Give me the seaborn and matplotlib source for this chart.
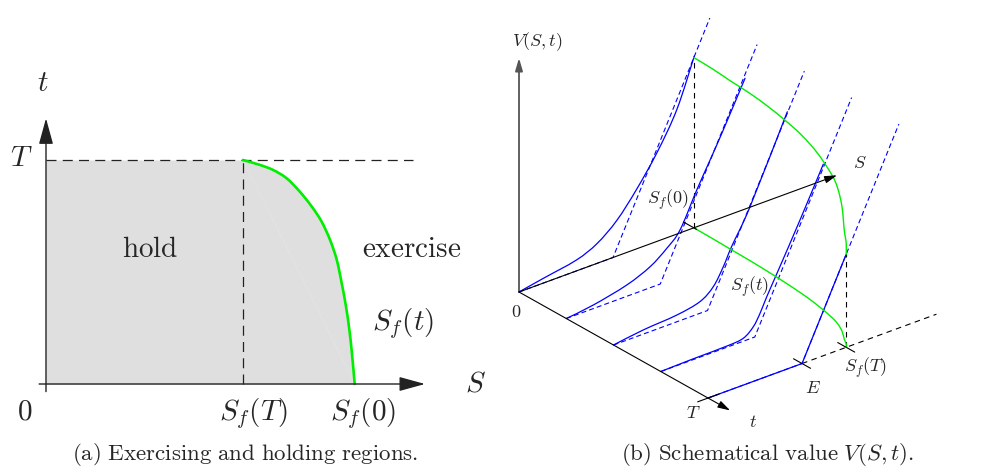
import numpy as np
import matplotlib
matplotlib.use("Agg")
import matplotlib.pyplot as plt
from matplotlib.path import Path
from matplotlib.patches import PathPatch
import seaborn as sns

sns.set_theme(style="white")
plt.rcParams['mathtext.fontset'] = 'cm'
plt.rcParams['font.family'] = ['DejaVu Serif']

# ---------------- panel (a): exercise / hold regions ----------------
T_A = 1.0          # expiry T
SF_T_A = 1.0       # S_f(T)
boundary_t = [1.0, 0.978, 0.955, 0.918, 0.858, 0.792, 0.725, 0.643, 0.554, 0.450, 0.345, 0.241, 0.137, 0.0]
boundary_S = [1.0, 1.086, 1.154, 1.222, 1.289, 1.349, 1.399, 1.442, 1.476, 1.501, 1.523, 1.540, 1.553, 1.567]

# ---------------- panel (b): schematic value V(S,t) ----------------
E = 1.0
T_B = 1.0
S_PAYOFF_END = 2.03
slice_t = [0.0, 0.25, 0.5, 0.75, 1.0]
value_S = [
    [0, 0.26, 0.61, 0.83, 1.04, 1.25, 1.47, 1.68, 1.865],
    [0, 0.288, 0.643, 0.891, 1.069, 1.21, 1.388, 1.529, 1.671, 1.902],
    [0, 0.317, 0.672, 0.92, 1.062, 1.168, 1.257, 1.452, 1.849],
    [0, 0.346, 0.702, 0.878, 0.985, 1.056, 1.127, 1.251, 1.481, 1.729],
    [0, 1.0, 1.47],
]
value_V = [
    [0, 0.024, 0.055, 0.10, 0.18, 0.30, 0.45, 0.63, 0.867],
    [0, 0.018, 0.057, 0.106, 0.168, 0.236, 0.407, 0.533, 0.662, 0.882],
    [0, 0.021, 0.034, 0.059, 0.110, 0.192, 0.279, 0.445, 0.856],
    [0, 0.004, 0.006, 0.015, 0.055, 0.11, 0.181, 0.294, 0.507, 0.746],
    [0, 0.0, 0.47],
]
fb_t = [0.0, 0.1, 0.2, 0.3, 0.4, 0.5, 0.6, 0.7, 0.8, 0.85, 0.9, 0.95, 0.98, 1.0]
fb_S = [1.86, 1.857, 1.85, 1.845, 1.835, 1.82, 1.80, 1.768, 1.72, 1.683, 1.627, 1.55, 1.51, 1.47]

# ---------------- styling ----------------
BLUE = '#0000ff'
GREEN = '#00ee00'
GREY_FILL = '#dfdfdf'


def smooth_curve(ax, x, y, **kw):
    """Draw a smooth curve through the given points (Bezier segments)."""
    P = np.column_stack([np.asarray(x, float), np.asarray(y, float)])
    n = len(P)
    verts = [P[0]]
    codes = [Path.MOVETO]
    for i in range(n - 1):
        p0 = P[i - 1] if i > 0 else P[i]
        p1, p2 = P[i], P[i + 1]
        p3 = P[i + 2] if i + 2 < n else P[i + 1]
        verts += [p1 + (p2 - p0) / 6, p2 - (p3 - p1) / 6, p2]
        codes += [Path.CURVE4] * 3
    ax.add_patch(PathPatch(Path(verts, codes), fill=False, capstyle='round',
                           joinstyle='round', **kw))


fig = plt.figure(figsize=(9.92, 4.68), dpi=100)

# ======== panel (a) ========
axA = fig.add_axes([0.0, 28 / 468, 480 / 992, 410 / 468])
axA.set_xlim(-46 / 197, 434 / 197)
axA.set_ylim((384 - 440) / 224, (384 - 30) / 224)
axA.set_axis_off()

axA.fill_betweenx(boundary_t, 0, boundary_S, color=GREY_FILL, lw=0, zorder=1)
axA.plot([boundary_S[0], boundary_S[-1]], [boundary_t[0], boundary_t[-1]],
         color='#e6e6e6', lw=0.4, zorder=2)
smooth_curve(axA, boundary_S, boundary_t, edgecolor=GREEN, lw=1.9, zorder=4)
sns.lineplot(x=[0, 1.863], y=[T_A, T_A], ax=axA, color='#222222', lw=0.9,
             linestyle=(0, (8, 5)), zorder=3)
sns.lineplot(x=[SF_T_A, SF_T_A], y=[0, T_A], ax=axA, color='#222222', lw=0.9,
             linestyle=(0, (8, 5)), zorder=3, sort=False, estimator=None)

arrA = dict(arrowstyle='-|>,head_length=0.8,head_width=0.22', color='#222222',
            lw=1.0, mutation_scale=20, shrinkA=0, shrinkB=0)
axA.annotate('', xy=(1.924, 0), xytext=(-0.035, 0), arrowprops=arrA, zorder=5)
axA.annotate('', xy=(0, 1.186), xytext=(0, -0.034), arrowprops=arrA, zorder=5)

fsA = 21
axA.text(-0.014, 1.342, r'$t$', fontsize=fsA, ha='center', va='center')
axA.text(-0.123, 1.008, r'$T$', fontsize=fsA, ha='center', va='center')
axA.text(-0.107, -0.124, r'$0$', fontsize=fsA, ha='center', va='center')
axA.text(2.18, 0.0, r'$S$', fontsize=fsA, ha='center', va='center')
axA.text(0.528, 0.601, r'$\mathrm{hold}$', fontsize=fsA, ha='center', va='center')
axA.text(1.856, 0.601, r'$\mathrm{exercise}$', fontsize=fsA, ha='center', va='center')
axA.text(1.814, 0.271, r'$S_f(t)$', fontsize=fsA, ha='center', va='center')
axA.text(1.052, -0.131, r'$S_f(T)$', fontsize=fsA, ha='center', va='center')
axA.text(1.611, -0.131, r'$S_f(0)$', fontsize=fsA, ha='center', va='center')

# ======== panel (b) ========
S_DIR = (1.0, 0.367)
T_DIR = (2.011, -1.128)
V_DIR = 2.106


def proj(S, t, V):
    S = np.asarray(S, float)
    t = np.asarray(t, float)
    V = np.asarray(V, float)
    u = S * S_DIR[0] + t * T_DIR[0] + 0 * V
    v = S * S_DIR[1] + t * T_DIR[1] + V * V_DIR
    return u, v


axB = fig.add_axes([490 / 992, 28 / 468, 502 / 992, 440 / 468])
axB.set_xlim((490 - 519) / 94, (992 - 519) / 94)
axB.set_ylim((292 - 440) / 94, 292 / 94)
axB.set_axis_off()

# coordinate axes
arrB = dict(arrowstyle='-|>,head_length=0.75,head_width=0.22', color='black',
            lw=0.8, mutation_scale=10, shrinkA=0, shrinkB=0)
arrV = dict(arrB, color='#555555', lw=1.3)
o = proj(0, 0, 0)
axB.annotate('', xy=proj(0, 0, 1.182), xytext=o, arrowprops=arrV, zorder=2)
axB.annotate('', xy=proj(3.383, 0, 0), xytext=o, arrowprops=arrB, zorder=6)
axB.annotate('', xy=proj(0, 1.117, 0), xytext=o, arrowprops=arrB, zorder=6)

# payoff lines (dashed) and value curves (solid) at each time slice
for k, tk in enumerate(slice_t):
    u, v = proj([0, E, S_PAYOFF_END], tk, [0, 0, S_PAYOFF_END - E])
    sns.lineplot(x=u, y=v, ax=axB, sort=False, estimator=None, color=BLUE,
                 lw=0.8, linestyle=(0, (4.5, 2.8)), zorder=3)
    u, v = proj(value_S[k], tk, value_V[k])
    if k == len(slice_t) - 1:
        sns.lineplot(x=u, y=v, ax=axB, sort=False, estimator=None, color=BLUE,
                     lw=0.9, zorder=4)
    else:
        smooth_curve(axB, u, v, edgecolor=BLUE, lw=0.9, zorder=4)

# free boundary on the floor and lifted to the payoff
fbS = np.asarray(fb_S)
u, v = proj(fbS, fb_t, 0)
smooth_curve(axB, u, v, edgecolor=GREEN, lw=1.0, zorder=5)
u, v = proj(fbS, fb_t, fbS - E)
smooth_curve(axB, u, v, edgecolor=GREEN, lw=1.0, zorder=5)

# black dashed helper lines
dk = dict(color='black', lw=0.8, ls=(0, (5, 4)), zorder=3)
for tk, sf in [(0.0, fb_S[0]), (T_B, fb_S[-1])]:
    u, v = proj([sf, sf], tk, [0, sf - E])
    axB.plot(u, v, **dk)
u, v = proj([E, 2.43], T_B, 0)
axB.plot(u, v, **dk)

# ticks
tk_kw = dict(color='black', lw=0.8, zorder=6)
u, v = proj([fb_S[0], fb_S[0]], [-0.055, 0.015], 0)
axB.plot(u, v, **tk_kw)
u, v = proj([E, E], [T_B - 0.045, T_B + 0.045], 0)
axB.plot(u, v, **tk_kw)
u, v = proj([fb_S[-1], fb_S[-1]], [T_B - 0.045, T_B + 0.045], 0)
axB.plot(u, v, **tk_kw)
u, v = proj([-0.11, 0.11], T_B, 0)
axB.plot(u, v, **tk_kw)

fsB = 13
axB.text(0.197, 2.663, r'$V(S,t)$', fontsize=fsB, ha='center', va='center')
axB.text(3.628, 1.372, r'$S$', fontsize=fsB, ha='center', va='center')
axB.text(1.588, 0.985, r'$S_f(0)$', fontsize=fsB, ha='center', va='center')
axB.text(2.457, 0.056, r'$S_f(t)$', fontsize=fsB, ha='center', va='center')
axB.text(3.691, -0.809, r'$S_f(T)$', fontsize=fsB, ha='center', va='center')
axB.text(3.128, -1.021, r'$E$', fontsize=fsB, ha='center', va='center')
axB.text(1.854, -1.29, r'$T$', fontsize=fsB, ha='center', va='center')
axB.text(2.493, -1.38, r'$t$', fontsize=fsB, ha='center', va='center')
axB.text(-0.025, -0.209, r'$0$', fontsize=fsB, ha='center', va='center')

# captions
fig.text(245 / 992, 1 - 454 / 468, r'$\mathrm{(a)\ Exercising\ and\ holding\ regions.}$',
         fontsize=16.5, ha='center', va='center')
fig.text(767.5 / 992, 1 - 454 / 468, r'$\mathrm{(b)\ Schematical\ value\ }V(S,t)\mathrm{.}$',
         fontsize=16.5, ha='center', va='center')

fig.savefig('out.png', dpi=100)
